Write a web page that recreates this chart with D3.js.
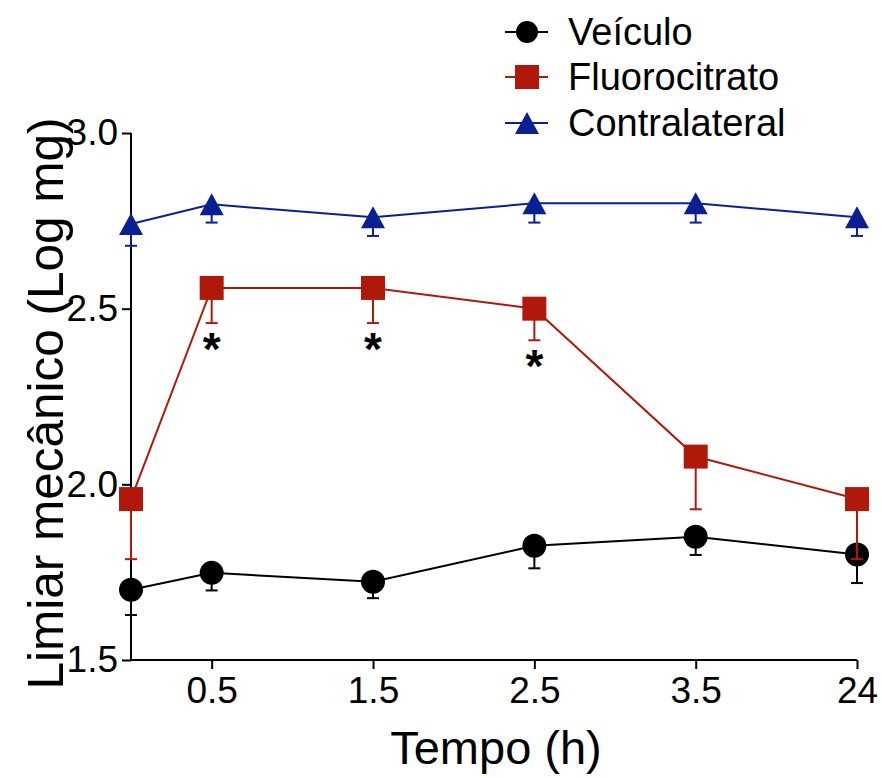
<!DOCTYPE html>
<html>
<head>
<meta charset="utf-8">
<script src="https://cdn.jsdelivr.net/npm/d3@7"></script>
<style>
  html, body { margin: 0; padding: 0; background: #fff; }
  svg { display: block; font-family: "Liberation Sans", Arial, Helvetica, sans-serif; }
</style>
</head>
<body>
<svg id="chart" width="882" height="778"></svg>
<script>
// Time points (h); the axis is broken between 3.5 and 24
const timePoints = [0, 0.5, 1.5, 2.5, 3.5, 24];
const xTickValues = [0.5, 1.5, 2.5, 3.5, 24];
const yTickValues = [1.5, 2.0, 2.5, 3.0];

// Mechanical threshold (log mg), mean and SEM
const veiculoMean = [1.70, 1.748, 1.723, 1.825, 1.851, 1.80];
const veiculoSem  = [0.072, 0.050, 0.047, 0.064, 0.052, 0.081];
const fluoroMean  = [1.958, 2.559, 2.559, 2.50, 2.079, 1.958];
const fluoroSem   = [0.171, 0.100, 0.100, 0.090, 0.150, 0.171];
const contraMean  = [2.741, 2.797, 2.760, 2.800, 2.800, 2.760];
const contraSem   = [0.062, 0.052, 0.053, 0.055, 0.055, 0.053];

// Significance marks for Fluorocitrato vs Veículo
const fluoroSig = ["", "*", "*", "*", "", ""];

const seriesNames = ["Veículo", "Fluorocitrato", "Contralateral"];
const seriesColors = ["#000000", "#B0190A", "#0B1F95"];
const seriesShapes = ["circle", "square", "triangle"];

const series = [
  { name: seriesNames[0], mean: veiculoMean, sem: veiculoSem, color: seriesColors[0], shape: seriesShapes[0] },
  { name: seriesNames[1], mean: fluoroMean,  sem: fluoroSem,  color: seriesColors[1], shape: seriesShapes[1], sig: fluoroSig },
  { name: seriesNames[2], mean: contraMean,  sem: contraSem,  color: seriesColors[2], shape: seriesShapes[2] }
];

const svg = d3.select("#chart");

const x = d3.scaleLinear().domain([0, 3.5, 24]).range([131, 695.7, 857]);
const y = d3.scaleLinear().domain([1.5, 3.0]).range([660, 133]);

function markerPath(shape, s) {
  const h = s / 2;
  if (shape === "circle") {
    return `M${-h},0A${h},${h} 0 1,0 ${h},0A${h},${h} 0 1,0 ${-h},0Z`;
  }
  if (shape === "square") {
    return `M${-h},${-h}H${h}V${h}H${-h}Z`;
  }
  // triangle centred on its bounding box
  const th = s * 0.46;
  return `M0,${-th}L${h},${th}L${-h},${th}Z`;
}

// Axes
const yAxis = d3.axisLeft(y).tickValues(yTickValues).tickFormat(d3.format(".1f"))
  .tickSize(9).tickPadding(4).tickSizeOuter(0);
const xAxis = d3.axisBottom(x).tickValues(xTickValues).tickFormat(d => String(d))
  .tickSize(9).tickPadding(8).tickSizeOuter(0);

const gy = svg.append("g").attr("transform", `translate(${x(0)},0)`).call(yAxis);
const gx = svg.append("g").attr("transform", `translate(0,${y(1.5)})`).call(xAxis);

[gx, gy].forEach(g => {
  g.select(".domain").attr("stroke", "#000").attr("stroke-width", 2);
  g.selectAll(".tick line").attr("stroke", "#000").attr("stroke-width", 2);
  g.selectAll(".tick text").attr("fill", "#000").attr("font-size", 37)
    .attr("font-family", "'Liberation Sans', Arial, sans-serif");
});
gy.select(".domain").attr("d", `M0,${y(1.5) + 1}V${y(3.0)}`);
gx.select(".domain").attr("d", `M${x(0) - 1},0H${x(24)}`);

// Axis titles
svg.append("text")
  .attr("x", (x(0) + x(24)) / 2 + 2).attr("y", 764)
  .attr("text-anchor", "middle").attr("font-size", 47).attr("fill", "#000")
  .text("Tempo (h)");

svg.append("text")
  .attr("transform", `translate(63,${(y(1.5) + y(3.0)) / 2 + 7}) rotate(-90)`)
  .attr("text-anchor", "middle").attr("font-size", 49.5).attr("fill", "#000")
  .text("Limiar mecânico (Log mg)");

// Series
const line = d3.line().x(d => x(d.t)).y(d => y(d.m));

series.forEach(s => {
  const pts = timePoints.map((t, i) => ({ t, m: s.mean[i], e: s.sem[i], sig: s.sig ? s.sig[i] : "" }));
  const g = svg.append("g");

  g.append("path").datum(pts).attr("d", line)
    .attr("fill", "none").attr("stroke", s.color).attr("stroke-width", 2);

  // lower error bars with caps
  const eb = g.selectAll(".eb").data(pts).join("g");
  eb.append("line")
    .attr("x1", d => x(d.t)).attr("x2", d => x(d.t))
    .attr("y1", d => y(d.m)).attr("y2", d => y(d.m - d.e))
    .attr("stroke", s.color).attr("stroke-width", 2);
  eb.append("line")
    .attr("x1", d => x(d.t) - 6).attr("x2", d => x(d.t) + 6)
    .attr("y1", d => y(d.m - d.e)).attr("y2", d => y(d.m - d.e))
    .attr("stroke", s.color).attr("stroke-width", 2);

  g.selectAll(".mk").data(pts).join("path")
    .attr("transform", d => `translate(${x(d.t)},${y(d.m)})`)
    .attr("d", markerPath(s.shape, 24))
    .attr("fill", s.color);

  g.selectAll(".sig").data(pts.filter(d => d.sig)).join("text")
    .attr("x", d => x(d.t)).attr("y", d => y(d.m - d.e) + 42)
    .attr("text-anchor", "middle").attr("font-size", 46).attr("font-weight", "bold")
    .attr("fill", "#000").text(d => d.sig);
});

// Legend
const legend = svg.append("g");
series.forEach((s, i) => {
  const cy = [32, 77, 123][i];
  const row = legend.append("g").attr("transform", `translate(527,${cy})`);
  row.append("line").attr("x1", -22).attr("x2", 21).attr("y1", 0).attr("y2", 0)
    .attr("stroke", s.color).attr("stroke-width", 2);
  row.append("path").attr("d", markerPath(s.shape, s.shape === "circle" ? 22 : 24)).attr("fill", s.color);
  row.append("text").attr("x", 41).attr("y", 0).attr("dy", "0.35em")
    .attr("font-size", 38).attr("fill", "#000").text(s.name);
});
</script>
</body>
</html>
